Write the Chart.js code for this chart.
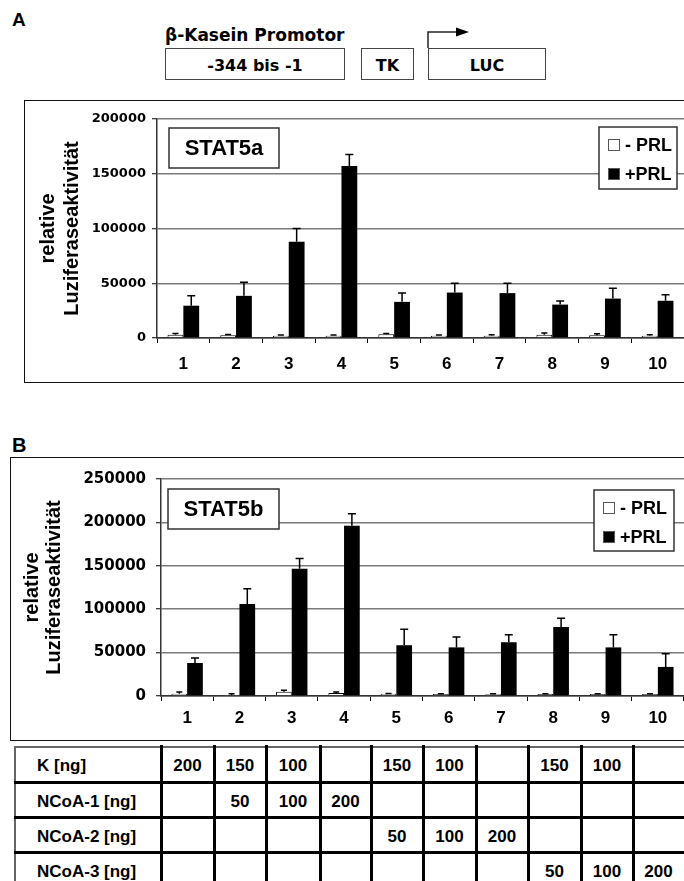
<!DOCTYPE html>
<html>
<head>
<meta charset="utf-8">
<script src="https://cdn.jsdelivr.net/npm/chart.js@4.4.0/dist/chart.umd.min.js"></script>
<style>
body { margin: 0; width: 684px; height: 881px; overflow: hidden; position: relative; background: #fff;
       font-family: "Liberation Sans", Arial, sans-serif; font-weight: bold; color: #000; }
.abs { position: absolute; line-height: 1; white-space: nowrap; }
.gene { position: absolute; border: 1.5px solid #444; box-sizing: border-box; display: flex; align-items: center;
        justify-content: center; padding-top: 3px; font-family: "DejaVu Sans", sans-serif; font-size: 16px; }
.panel { position: absolute; border: 1.5px solid #111; border-right: none; box-sizing: border-box; }
canvas { position: absolute; }
.cell { position: absolute; display: flex; align-items: center; font-size: 17px; white-space: nowrap; }
.line { position: absolute; background: #000; }
</style>
</head>
<body>

<div class="abs" style="left:12px;top:10px;font-size:19px;">A</div>
<div class="abs" style="left:165px;top:27px;font-size:17px;font-family:'DejaVu Sans',sans-serif;">β-Kasein Promotor</div>
<div class="gene" style="left:165px;top:48px;width:180px;height:32px;">-344 bis -1</div>
<div class="gene" style="left:361px;top:48px;width:53px;height:32px;">TK</div>
<div class="gene" style="left:428px;top:48px;width:118px;height:32px;">LUC</div>
<svg class="abs" style="left:420px;top:26px;" width="60" height="24">
  <polyline points="8,22 8,6 40,6" fill="none" stroke="#222" stroke-width="1.5"/>
  <polygon points="36,1.5 49,6 36,10.5" fill="#000"/>
</svg>

<div class="panel" style="left:24px;top:100px;width:660px;height:283px;"></div>
<canvas id="chartA" width="659" height="281" style="left:25px;top:101px;"></canvas>

<div class="abs" style="left:12px;top:435px;font-size:20px;">B</div>
<div class="panel" style="left:10px;top:457px;width:674px;height:284px;"></div>
<canvas id="chartB" width="673" height="281" style="left:11px;top:458px;"></canvas>

<div id="table"></div>

<script>
// x categories (construct number)
const categories = ['1', '2', '3', '4', '5', '6', '7', '8', '9', '10'];

// A: STAT5a, relative luciferase activity
const stat5aMinusPrl = [3000, 2500, 2000, 2000, 3500, 2000, 2000, 3000, 2500, 2000];
const stat5aMinusErr = [1000, 700, 800, 800, 500, 800, 900, 1500, 1300, 900];
const stat5aPlusPrl = [29500, 38500, 88000, 157000, 33000, 41500, 41000, 30500, 36000, 34000];
const stat5aPlusErr = [9000, 12500, 12000, 10500, 8000, 8500, 9000, 3300, 9500, 5500];

// B: STAT5b
const stat5bMinusPrl = [2500, 1200, 5000, 3500, 2500, 2200, 2000, 2200, 2200, 2200];
const stat5bMinusErr = [2000, 1500, 1500, 1200, 500, 500, 600, 500, 500, 500];
const stat5bPlusPrl = [38000, 106000, 146500, 196000, 58500, 56000, 62000, 79500, 56000, 33500];
const stat5bPlusErr = [5800, 17500, 12000, 14000, 18500, 12000, 8500, 10000, 14500, 15300];

const seriesLabels = ['- PRL', '+PRL'];
const yTitle = ['relative', 'Luziferaseaktivität'];

// transfection table
const rowLabels = ['K [ng]', 'NCoA-1 [ng]', 'NCoA-2 [ng]', 'NCoA-3 [ng]'];
const kNg     = ['200', '150', '100', '', '150', '100', '', '150', '100', ''];
const ncoa1Ng = ['', '50', '100', '200', '', '', '', '', '', ''];
const ncoa2Ng = ['', '', '', '', '50', '100', '200', '', '', ''];
const ncoa3Ng = ['', '', '', '', '', '', '', '50', '100', '200'];

// error bars (upper whisker only)
const errorBars = {
    id: 'errorBars',
    afterDatasetsDraw(chart) {
        const ctx = chart.ctx;
        const y = chart.scales.y;
        chart.data.datasets.forEach((ds, i) => {
            const meta = chart.getDatasetMeta(i);
            meta.data.forEach((bar, j) => {
                const top = y.getPixelForValue(ds.data[j] + ds.errors[j]);
                const half = ds.capWidth / 2;
                ctx.save();
                ctx.strokeStyle = '#000';
                ctx.lineWidth = 1.5;
                ctx.beginPath();
                ctx.moveTo(bar.x, bar.y);
                ctx.lineTo(bar.x, top);
                ctx.moveTo(bar.x - half, top);
                ctx.lineTo(bar.x + half, top);
                ctx.stroke();
                ctx.restore();
            });
        });
    }
};

// name box + legend box inside the plot
const panelDecor = {
    id: 'panelDecor',
    afterDraw(chart, args, o) {
        const ctx = chart.ctx;
        const a = chart.chartArea;
        ctx.save();
        // name box
        const nx = a.left + o.nameDx, ny = a.top + o.nameDy;
        ctx.fillStyle = '#fff';
        ctx.fillRect(nx, ny, o.nameW, o.nameH);
        ctx.strokeStyle = '#333';
        ctx.lineWidth = 1.5;
        ctx.strokeRect(nx, ny, o.nameW, o.nameH);
        ctx.fillStyle = '#000';
        ctx.font = 'bold 22px "Liberation Sans", Arial';
        ctx.textAlign = 'center';
        ctx.textBaseline = 'middle';
        ctx.fillText(o.name, nx + o.nameW / 2, ny + o.nameH / 2 + 1);

        // legend box
        const lx = a.right - o.legDx, ly = a.top + o.legDy;
        ctx.fillStyle = '#fff';
        ctx.fillRect(lx, ly, o.legW, o.legH);
        ctx.strokeRect(lx, ly, o.legW, o.legH);
        ctx.font = 'bold 18px "Liberation Sans", Arial';
        ctx.textAlign = 'left';
        chart.data.datasets.forEach((ds, i) => {
            const cy = ly + 18 + i * 29;
            ctx.fillStyle = ds.backgroundColor;
            ctx.fillRect(lx + 9, cy - 6, 12, 12);
            ctx.strokeStyle = '#555';
            ctx.lineWidth = 1;
            ctx.strokeRect(lx + 9.5, cy - 5.5, 11, 11);
            ctx.fillStyle = '#000';
            ctx.fillText(ds.label, lx + 26, cy + 1);
        });
        ctx.restore();
    }
};

function buildChart(id, minus, minusErr, plus, plusErr, yMax, look) {
    return new Chart(document.getElementById(id), {
        type: 'bar',
        data: {
            labels: categories,
            datasets: [
                { label: seriesLabels[0], data: minus, errors: minusErr, capWidth: 6,
                  backgroundColor: '#fff', borderColor: '#000', borderWidth: 1 },
                { label: seriesLabels[1], data: plus, errors: plusErr, capWidth: 8,
                  backgroundColor: '#000', borderColor: '#000', borderWidth: 0 }
            ]
        },
        options: {
            responsive: false,
            animation: false,
            devicePixelRatio: 1,
            layout: { padding: { left: 0, top: look.padTop, right: 0, bottom: 0 } },
            datasets: { bar: { barPercentage: 1, categoryPercentage: 0.6 } },
            plugins: {
                legend: { display: false },
                tooltip: { enabled: false },
                panelDecor: look.decor
            },
            scales: {
                x: {
                    offset: true,
                    grid: { display: true, offset: true, drawOnChartArea: false, drawTicks: true,
                            tickLength: 5, color: '#000', lineWidth: 1 },
                    border: { display: true, color: '#333', width: 1.5 },
                    ticks: { color: '#000', padding: look.xPad,
                             font: { family: 'Liberation Sans', size: 17, weight: 'bold' } },
                    afterFit: s => { s.height = look.xHeight; }
                },
                y: {
                    min: 0,
                    max: yMax,
                    ticks: { stepSize: 50000, color: '#000', padding: look.yPad,
                             callback: v => String(v),
                             font: { family: 'DejaVu Sans', size: look.yFont, weight: 'bold' } },
                    grid: { color: '#7a7a7a', lineWidth: 1.5, tickLength: 5, tickColor: '#000', tickWidth: 1 },
                    border: { display: true, color: '#333', width: 1.5 },
                    title: {
                        display: true,
                        text: yTitle,
                        color: '#000',
                        font: { family: 'Liberation Sans', size: 20, weight: 'bold', lineHeight: look.titleLH },
                        padding: { top: look.titlePad, bottom: 0 }
                    },
                    afterFit: s => { s.width = look.yWidth; }
                }
            }
        },
        plugins: [errorBars, panelDecor]
    });
}

buildChart('chartA', stat5aMinusPrl, stat5aMinusErr, stat5aPlusPrl, stat5aPlusErr, 200000, {
    padTop: 18, xHeight: 44, yWidth: 132, xPad: 11, yPad: 6, yFont: 13, titleLH: 1.2, titlePad: 11,
    decor: { name: 'STAT5a', nameDx: 12, nameDy: 9, nameW: 110, nameH: 40,
             legDx: 85, legDy: 8, legW: 78, legH: 62 }
});

buildChart('chartB', stat5bMinusPrl, stat5bMinusErr, stat5bPlusPrl, stat5bPlusErr, 250000, {
    padTop: 21, xHeight: 43, yWidth: 150, xPad: 7, yPad: 10, yFont: 15, titleLH: 1.1, titlePad: 10,
    decor: { name: 'STAT5b', nameDx: 7, nameDy: 10, nameW: 111, nameH: 40,
             legDx: 90, legDy: 11, legW: 80, legH: 61 }
});

// table below panel B
const colEdges = [14, 161, 214, 266, 320, 371, 423, 476, 528, 581, 633, 684];
const rowEdges = [746, 782, 817, 852, 888];
const tableRows = [kNg, ncoa1Ng, ncoa2Ng, ncoa3Ng];
const table = document.getElementById('table');

function addDiv(style, text, cls) {
    const d = document.createElement('div');
    d.className = cls || 'line';
    Object.assign(d.style, style);
    if (text) d.textContent = text;
    table.appendChild(d);
}

tableRows.forEach((row, r) => {
    const top = rowEdges[r] + 2, h = rowEdges[r + 1] - rowEdges[r];
    addDiv({ left: '37px', top: top + 'px', height: h + 'px' }, rowLabels[r], 'cell');
    row.forEach((v, c) => {
        if (!v) return;
        const l = colEdges[c + 1], w = colEdges[c + 2] - l;
        addDiv({ left: l + 'px', top: top + 'px', width: w + 'px', height: h + 'px', justifyContent: 'center' }, v, 'cell');
    });
});
addDiv({ left: '14px', top: '746px', width: '670px', height: '1.5px', background: '#666' });
addDiv({ left: '14px', top: '746px', width: '1.5px', height: '140px', background: '#666' });
for (let i = 1; i < colEdges.length - 1; i++) {
    addDiv({ left: (colEdges[i] - 1.5) + 'px', top: '745px', width: '3px', height: '140px' });
}
for (let i = 1; i < rowEdges.length - 1; i++) {
    addDiv({ left: '14px', top: (rowEdges[i] - 1.5) + 'px', width: '670px', height: '3px' });
}
</script>
</body>
</html>
